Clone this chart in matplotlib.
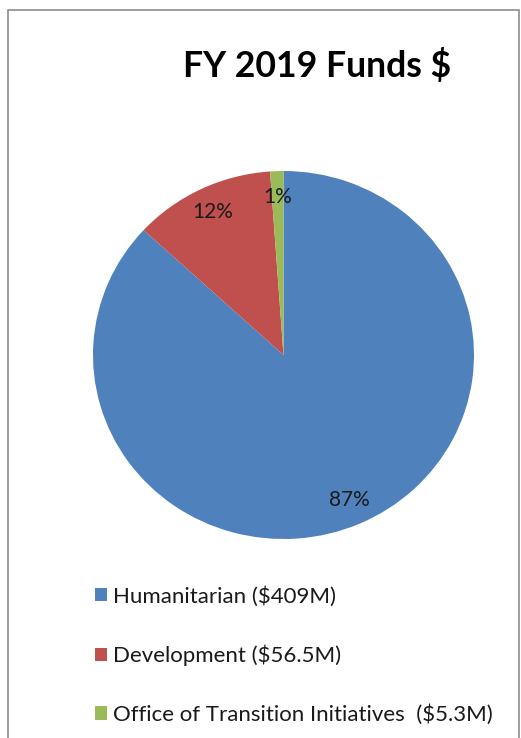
import matplotlib.pyplot as plt
from matplotlib.patches import Rectangle

# data
labels = ['Humanitarian ($409M)', 'Development ($56.5M)',
          'Office of Transition Initiatives  ($5.3M)']
funds = [409, 56.5, 5.3]
colors = ['#4F81BD', '#C0504D', '#9BBB59']

W, H = 521, 738
fig = plt.figure(figsize=(W / 100, H / 100), dpi=100)
plt.rcParams['font.family'] = ['Lato', 'DejaVu Sans']

# outer chart frame
fig.patches.append(Rectangle((8 / W, -0.05), 511 / W, 1.05 - 10 / H,
                             transform=fig.transFigure, fill=False,
                             edgecolor='#8c8c8c', linewidth=1.2))

fig.text(317.5 / W, 1 - 77 / H, 'FY 2019 Funds $', ha='center',
         va='baseline', fontsize=25.7, fontweight='bold', color='black')

# pie axes (pie is slightly wider than tall in the reference)
ax = fig.add_axes([93 / W, 1 - 539 / H, 381 / W, 368 / H])
wedges, texts, autotexts = ax.pie(
    funds, colors=colors, startangle=90, counterclock=False,
    autopct='%1.0f%%', pctdistance=0.86,
    textprops={'fontsize': 15, 'color': '#1a1a1a'})
ax.set_aspect('auto')
ax.set_xlim(-1, 1)
ax.set_ylim(-1, 1)

fig.legend(wedges, labels, loc='upper left',
           bbox_to_anchor=(95 / W, 1 - 586 / H), frameon=False,
           fontsize=16, handlelength=0.54, handleheight=0.54,
           handletextpad=0.27, labelspacing=1.71, borderpad=0,
           borderaxespad=0, labelcolor='#1a1a1a')

fig.savefig('out.png', dpi=100)
